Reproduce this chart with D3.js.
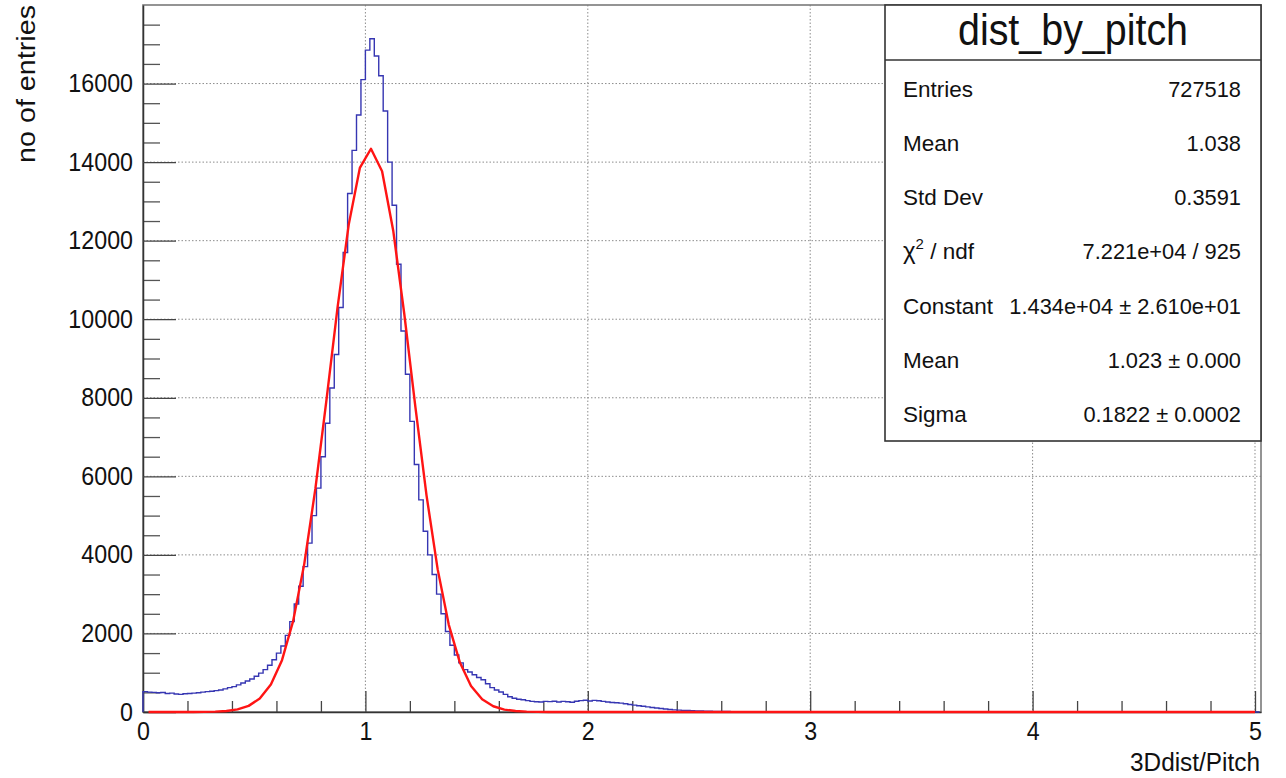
<!doctype html>
<html lang="en">
<head>
<meta charset="utf-8">
<title>dist_by_pitch</title>
<script src="https://d3js.org/d3.v7.min.js"></script>
<style>
  body { margin: 0; background: #fff; }
  svg text { font-family: "Liberation Sans", Arial, sans-serif; fill: #111; }
</style>
</head>
<body>
<div id="chart"></div>
<script>

// histogram: bins of 0.02 starting at 0
const binWidth = 0.02;
const counts = [
  520, 505, 500, 490, 495, 470, 480, 460, 450, 465,
  470, 480, 490, 505, 520, 530, 545, 560, 590, 620,
  645, 690, 740, 790, 840, 910, 990, 1080, 1190, 1330,
  1500, 1680, 1950, 2300, 2750, 3200, 3700, 4300, 5000, 5700,
  6500, 7350, 8250, 9100, 10300, 11700, 13200, 14300, 15200, 16100,
  16850, 17140, 16700, 16200, 15300, 14000, 12900, 11400, 9700, 8600,
  7400, 6300, 5400, 4600, 4000, 3500, 3000, 2500, 2050, 1700,
  1450, 1250, 1080, 1020, 950, 880, 820, 720, 620, 560,
  510, 450, 390, 350, 325, 310, 290, 270, 260, 255,
  270, 265, 275, 255, 270, 260, 250, 275, 290, 300,
  280, 295, 285, 270, 255, 240, 235, 225, 210, 190,
  175, 160, 145, 130, 115, 100, 90, 75, 62, 55,
  48, 42, 38, 32, 28, 25, 22, 18, 15, 14,
  12, 11, 9, 8, 7, 6, 5, 5, 4, 4,
  3, 3, 3, 2, 2, 2, 2, 1, 1, 1,
  1, 1, 2, 1, 0, 1, 0, 0, 1, 0,
  0, 1, 0, 0, 0, 0, 1, 0, 0, 0,
  0, 0, 0, 1, 0, 0, 0, 0, 0, 0,
  0, 0, 0, 0, 0, 0, 0, 0, 0, 0,
  0, 0, 0, 0, 0, 0, 0, 0, 0, 0,
  0, 0, 0, 0, 0, 0, 0, 0, 0, 0,
  0, 0, 0, 0, 0, 0, 0, 0, 0, 0,
  0, 0, 0, 0, 0, 0, 0, 0, 0, 0,
  0, 0, 0, 0, 0, 0, 0, 0, 0, 0,
  0, 0, 0, 0, 0, 0, 0, 0, 0, 0,
  0
];

// gaus fit, sampled points as drawn
const fitX = [
  0.025, 0.075, 0.125, 0.175, 0.225, 0.275, 0.325, 0.375, 0.425, 0.475,
  0.525, 0.575, 0.625, 0.675, 0.725, 0.775, 0.825, 0.875, 0.925, 0.975,
  1.025, 1.075, 1.125, 1.175, 1.225, 1.275, 1.325, 1.375, 1.425, 1.475,
  1.525, 1.575, 1.625, 1.675, 1.725, 1.775, 1.825, 1.875, 1.925, 1.975,
  2.025, 5.0
];
const fitY = [
  0, 0, 0, 0, 0, 3, 9, 26, 66, 156,
  342, 698, 1319, 2314, 3765, 5679, 7946, 10310, 12408, 13851,
  14340, 13768, 12261, 10126, 7757, 5509, 3631, 2219, 1258, 661,
  322, 146, 61, 24, 9, 3, 1, 0, 0, 0,
  0, 0
];

const xMajor = [0, 1, 2, 3, 4, 5];
const yMajor = [0, 2000, 4000, 6000, 8000, 10000, 12000, 14000, 16000];
const xTitle = "3Ddist/Pitch";
const yTitle = "no of entries";

const statsTitle = "dist_by_pitch";
const statLabels = ["Entries", "Mean", "Std Dev", "χ^2 / ndf", "Constant", "Mean", "Sigma"];
const statValues = ["727518", "1.038", "0.3591", "7.221e+04 / 925",
  "1.434e+04 ± 2.610e+01", "1.023 ± 0.000", "0.1822 ± 0.0002"];

const W = 1286, H = 778;
const m = { left: 143, right: 1261, top: 5, bottom: 712 };
const fontFam = '"Liberation Sans", Arial, sans-serif';

const svg = d3.select("#chart").append("svg")
  .attr("width", W)
  .attr("height", H);

const x = d3.scaleLinear().domain([0, 5.027]).range([m.left, m.right]);
const y = d3.scaleLinear().domain([0, 18000]).range([m.bottom, m.top]);

// squeeze text a bit, ROOT fonts are narrower than Liberation
function narrow(sel, f) {
  sel.each(function () {
    const w = this.getComputedTextLength();
    d3.select(this).attr("textLength", w * f).attr("lengthAdjust", "spacingAndGlyphs");
  });
}

// grid
svg.append("g")
  .selectAll("line")
  .data(xMajor.slice(1))
  .enter().append("line")
  .attr("x1", d => x(d)).attr("x2", d => x(d))
  .attr("y1", m.top).attr("y2", m.bottom)
  .attr("stroke", "#8c8c8c").attr("stroke-width", 1)
  .attr("stroke-dasharray", "1.5,2");

svg.append("g")
  .selectAll("line")
  .data(yMajor.slice(1))
  .enter().append("line")
  .attr("x1", m.left).attr("x2", m.right)
  .attr("y1", d => y(d)).attr("y2", d => y(d))
  .attr("stroke", "#8c8c8c").attr("stroke-width", 1)
  .attr("stroke-dasharray", "1.5,2");

// frame
svg.append("rect")
  .attr("x", m.left).attr("y", m.top)
  .attr("width", m.right - m.left).attr("height", m.bottom - m.top)
  .attr("fill", "none")
  .attr("stroke", "#7a7a7a")
  .attr("stroke-width", 1.6);

// y axis
const yMinor = d3.range(500, 18000, 500).filter(v => v % 2000 !== 0);
svg.append("g")
  .attr("transform", `translate(${m.left},0)`)
  .call(d3.axisLeft(y).tickValues(yMinor).tickSizeInner(-17).tickSizeOuter(0).tickFormat(""))
  .call(g => g.select(".domain").remove())
  .call(g => g.selectAll("line").attr("stroke", "#555").attr("stroke-width", 1.3));

svg.append("g")
  .attr("transform", `translate(${m.left},0)`)
  .call(d3.axisLeft(y).tickValues(yMajor).tickSizeInner(-33).tickSizeOuter(0).tickPadding(10)
    .tickFormat(d3.format("d")))
  .call(g => g.select(".domain").attr("stroke", "#333").attr("stroke-width", 1.5))
  .call(g => g.selectAll("line").attr("stroke", "#444").attr("stroke-width", 1.3))
  .call(g => g.selectAll("text").attr("font-size", 25).attr("fill", "#111")
    .attr("font-family", fontFam).call(narrow, 0.93));

// x axis
const xMinor = d3.range(0.2, 5.01, 0.2).filter(v => Math.abs(v - Math.round(v)) > 0.01);
svg.append("g")
  .attr("transform", `translate(0,${m.bottom})`)
  .call(d3.axisBottom(x).tickValues(xMinor).tickSizeInner(-11).tickSizeOuter(0).tickFormat(""))
  .call(g => g.select(".domain").remove())
  .call(g => g.selectAll("line").attr("stroke", "#444").attr("stroke-width", 1.3));

svg.append("g")
  .attr("transform", `translate(0,${m.bottom})`)
  .call(d3.axisBottom(x).tickValues(xMajor).tickSizeInner(-21).tickSizeOuter(0).tickPadding(10)
    .tickFormat(d3.format("d")))
  .call(g => g.select(".domain").attr("stroke", "#333").attr("stroke-width", 1.5))
  .call(g => g.selectAll("line").attr("stroke", "#444").attr("stroke-width", 1.3))
  .call(g => g.selectAll("text").attr("font-size", 25).attr("fill", "#111")
    .attr("font-family", fontFam).call(narrow, 0.93));

// histogram outline
const histPts = [[0, 0]];
counts.forEach((c, i) => {
  histPts.push([i * binWidth, c]);
  histPts.push([(i + 1) * binWidth, c]);
});
histPts.push([counts.length * binWidth, 0]);

const line = d3.line()
  .x(d => x(Math.min(d[0], 5.027)))
  .y(d => y(d[1]));

svg.append("path")
  .datum(histPts)
  .attr("d", line)
  .attr("fill", "none")
  .attr("stroke", "#3636b2")
  .attr("stroke-width", 1.4)
  .attr("stroke-linejoin", "miter");

// fit curve
svg.append("path")
  .datum(fitX.map((v, i) => [v, fitY[i]]))
  .attr("d", line)
  .attr("fill", "none")
  .attr("stroke", "#ff1414")
  .attr("stroke-width", 2.4)
  .attr("stroke-linejoin", "round");

// axis titles
svg.append("text")
  .attr("x", m.right - 1).attr("y", 771)
  .attr("text-anchor", "end")
  .attr("font-size", 25)
  .attr("textLength", 130)
  .attr("lengthAdjust", "spacingAndGlyphs")
  .text(xTitle);

svg.append("text")
  .attr("transform", "translate(34.5,5) rotate(-90)")
  .attr("text-anchor", "end")
  .attr("font-size", 26)
  .attr("textLength", 158)
  .attr("lengthAdjust", "spacingAndGlyphs")
  .text(yTitle);

// stats box
const box = { x0: 885, y0: 5, x1: m.right, y1: 441, sep: 60 };
const sb = svg.append("g");
sb.append("rect")
  .attr("x", box.x0).attr("y", box.y0)
  .attr("width", box.x1 - box.x0).attr("height", box.y1 - box.y0)
  .attr("fill", "#fff")
  .attr("stroke", "#333").attr("stroke-width", 1.6);
sb.append("line")
  .attr("x1", box.x0).attr("x2", box.x1)
  .attr("y1", box.sep).attr("y2", box.sep)
  .attr("stroke", "#333").attr("stroke-width", 1.6);
sb.append("text")
  .attr("x", (box.x0 + box.x1) / 2).attr("y", 45)
  .attr("text-anchor", "middle")
  .attr("font-size", 45)
  .attr("textLength", 230)
  .attr("lengthAdjust", "spacingAndGlyphs")
  .text(statsTitle);

statLabels.forEach((lab, i) => {
  const yy = 96.5 + i * 54.3;
  const t = sb.append("text").attr("x", 903).attr("y", yy).attr("font-size", 22.5);
  if (lab.includes("^")) {
    const parts = lab.split("^");
    t.append("tspan").attr("font-size", 24).text(parts[0]);
    t.append("tspan").attr("font-size", 15).attr("dy", -10).text(parts[1].slice(0, 1));
    t.append("tspan").attr("dy", 10).text(parts[1].slice(1));
  } else {
    t.text(lab);
  }
  sb.append("text")
    .attr("x", 1241).attr("y", yy)
    .attr("text-anchor", "end")
    .attr("font-size", 22.5)
    .text(statValues[i])
    .call(narrow, 0.97);
});

</script>
</body>
</html>
